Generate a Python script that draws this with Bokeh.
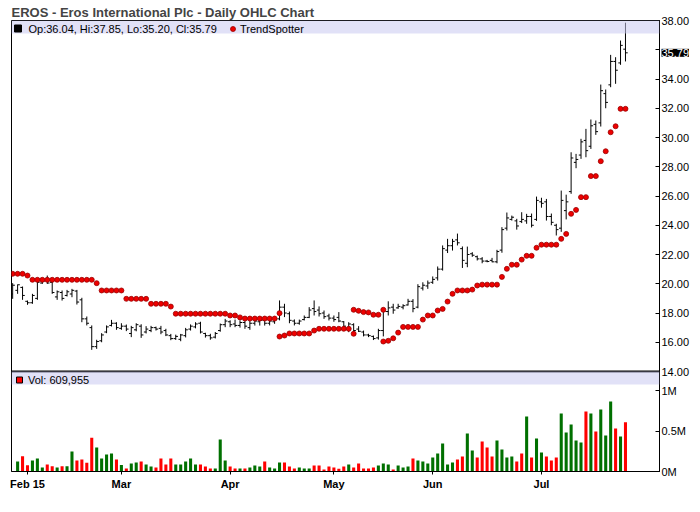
import pandas as pd
from bokeh.plotting import figure
from bokeh.models import (Range1d, FixedTicker, Label, BoxAnnotation, Span,
                          ColumnDataSource, CustomJSTickFormatter)
from bokeh.embed import file_html
from bokeh.resources import INLINE

# ---------------- data ----------------
holidays = ["2015-02-16", "2015-04-03", "2015-05-25", "2015-07-03"]
dates = pd.bdate_range("2015-01-28", "2015-07-27")
dates = dates[~dates.isin(pd.to_datetime(holidays))]

month_labels = ["Feb 15", "Mar", "Apr", "May", "Jun", "Jul"]

high = [
    20.04, 19.95, 19.81, 18.85, 19.31, 20.22, 20.27, 20.56, 20.22, 19.54,
    19.54, 19.58, 19.65, 19.58, 19.04, 17.76, 17.15, 16.17, 16.62, 17.15,
    17.53, 17.37, 17.30, 17.21, 17.12, 17.30, 17.23, 17.10, 17.12, 17.07,
    17.12, 16.92, 16.57, 16.52, 16.57, 16.98, 17.22, 17.37, 17.40, 16.65,
    16.58, 16.70, 17.28, 17.60, 17.50, 17.55, 17.50, 17.50, 17.50, 17.60,
    17.53, 17.60, 17.60, 17.72, 18.86, 18.63, 18.10, 17.56, 17.55, 17.83,
    18.40, 18.86, 18.45, 18.17, 17.95, 17.83, 18.06, 17.45, 17.37, 17.30,
    17.10, 16.80, 16.58, 16.46, 16.92, 18.29, 18.80, 18.63, 18.63, 18.60,
    18.97, 18.95, 19.97, 20.10, 20.22, 20.50, 21.18, 22.62, 23.07, 23.07,
    23.43, 22.55, 22.54, 22.16, 21.93, 21.82, 21.63, 21.77, 22.32, 23.87,
    24.87, 24.66, 24.44, 24.89, 24.78, 24.80, 25.96, 25.88, 25.80, 24.80,
    24.10, 26.37, 26.09, 28.99, 28.88, 29.91, 30.59, 31.23, 31.16, 33.62,
    33.28, 35.65, 35.49, 36.63, 37.85]

low = [
    18.97, 19.31, 18.90, 18.56, 18.63, 18.90, 19.99, 19.99, 19.31, 18.90,
    18.85, 19.13, 19.08, 18.58, 17.37, 17.15, 15.48, 15.55, 16.00, 16.62,
    17.08, 16.85, 16.85, 16.76, 16.35, 16.75, 16.30, 16.60, 16.69, 16.80,
    16.55, 16.42, 16.14, 16.16, 16.07, 16.33, 16.80, 16.95, 16.60, 16.32,
    16.17, 16.26, 16.72, 17.03, 17.03, 17.03, 17.00, 16.92, 16.85, 17.14,
    17.14, 17.14, 17.15, 17.26, 17.50, 17.72, 17.30, 17.15, 17.20, 17.49,
    17.65, 17.83, 17.76, 17.60, 17.49, 17.40, 17.37, 17.00, 16.69, 16.65,
    16.70, 16.40, 16.35, 16.15, 16.18, 16.40, 17.83, 17.95, 18.29, 18.25,
    18.51, 18.05, 18.32, 19.54, 19.65, 19.99, 20.22, 20.90, 22.10, 22.27,
    22.62, 21.08, 21.13, 21.84, 21.59, 21.40, 21.47, 21.47, 21.40, 22.12,
    23.64, 24.32, 23.70, 24.15, 24.10, 23.85, 24.30, 25.20, 24.32, 24.00,
    23.30, 23.55, 24.40, 26.15, 27.90, 28.54, 28.65, 29.22, 30.18, 30.75,
    32.00, 33.44, 33.67, 34.97, 35.20]

opens = [
    19.30, 19.55, 19.75, 18.80, 18.70, 19.00, 20.05, 20.30, 20.10, 19.10,
    19.40, 19.20, 19.30, 19.50, 18.90, 17.60, 17.00, 15.70, 16.10, 16.70,
    17.15, 17.30, 16.95, 17.10, 16.60, 16.85, 17.10, 16.70, 16.80, 17.00,
    16.95, 16.80, 16.45, 16.25, 16.20, 16.45, 16.90, 17.05, 17.30, 16.60,
    16.45, 16.35, 16.80, 17.20, 17.40, 17.25, 17.15, 17.35, 17.00, 17.30,
    17.40, 17.50, 17.30, 17.40, 17.60, 18.40, 17.95, 17.45, 17.30, 17.55,
    17.70, 18.30, 18.20, 18.00, 17.80, 17.65, 17.70, 17.40, 16.90, 17.20,
    16.90, 16.70, 16.50, 16.40, 16.30, 16.80, 18.10, 18.40, 18.35, 18.40,
    18.55, 18.80, 18.40, 19.70, 19.85, 20.10, 20.40, 21.00, 22.30, 22.60,
    23.00, 22.40, 21.40, 22.05, 21.85, 21.70, 21.55, 21.60, 21.50, 22.30,
    23.80, 24.40, 24.30, 24.25, 24.30, 24.60, 24.40, 25.60, 25.60, 24.60,
    24.00, 23.80, 25.00, 26.30, 28.30, 28.80, 29.80, 29.40, 30.90, 31.00,
    33.00, 33.60, 35.20, 35.10, 36.04]

closes = [
    19.90, 19.93, 19.20, 18.70, 19.20, 20.10, 20.15, 20.05, 19.40, 19.45,
    19.00, 19.45, 19.55, 18.75, 17.60, 17.30, 15.70, 16.05, 16.50, 17.05,
    17.30, 17.00, 17.10, 16.90, 17.00, 17.20, 16.50, 16.90, 17.00, 16.90,
    16.70, 16.50, 16.25, 16.40, 16.50, 16.85, 17.10, 17.25, 16.70, 16.45,
    16.30, 16.60, 17.20, 17.45, 17.20, 17.15, 17.35, 17.10, 17.30, 17.45,
    17.50, 17.30, 17.45, 17.55, 18.40, 18.00, 17.50, 17.30, 17.45, 17.70,
    18.20, 18.10, 17.95, 17.75, 17.65, 17.55, 17.45, 17.10, 17.25, 16.80,
    16.75, 16.50, 16.45, 16.25, 16.80, 18.10, 18.35, 18.20, 18.45, 18.50,
    18.80, 18.30, 19.80, 19.90, 20.05, 20.30, 21.00, 22.40, 22.60, 22.90,
    22.80, 21.60, 22.00, 21.95, 21.70, 21.55, 21.52, 21.50, 22.20, 23.70,
    24.50, 24.55, 23.95, 24.40, 24.60, 24.00, 25.70, 25.50, 24.60, 24.20,
    23.70, 25.70, 25.60, 28.60, 28.50, 29.70, 29.10, 30.80, 30.40, 33.20,
    32.40, 35.20, 34.60, 36.30, 35.79]

volume = [
    0, 124000, 190000, 78000, 136000, 161000, 50000, 87000, 66000, 50000,
    66000, 66000, 248000, 136000, 149000, 110000, 420000, 297000, 161000, 211000,
    223000, 149000, 80000, 37000, 99000, 112000, 124000, 87000, 62000, 50000,
    161000, 87000, 161000, 87000, 87000, 124000, 161000, 87000, 87000, 62000,
    37000, 37000, 397000, 136000, 62000, 37000, 37000, 37000, 50000, 74000,
    62000, 124000, 50000, 37000, 112000, 112000, 62000, 37000, 50000, 37000,
    37000, 74000, 74000, 25000, 62000, 50000, 35000, 62000, 87000, 50000,
    99000, 37000, 37000, 50000, 74000, 99000, 87000, 25000, 74000, 50000,
    62000, 161000, 136000, 124000, 99000, 174000, 223000, 347000, 87000, 112000,
    149000, 186000, 471000, 260000, 174000, 372000, 297000, 186000, 384000, 273000,
    174000, 186000, 124000, 223000, 682000, 174000, 409000, 235000, 186000, 136000,
    174000, 719000, 483000, 582000, 384000, 359000, 744000, 719000, 496000, 768000,
    446000, 867000, 533000, 434000, 609955]

vol_up = [
    1, 1, 0, 0, 1, 1, 1, 0, 0, 1,
    0, 1, 1, 0, 0, 0, 0, 1, 1, 1,
    1, 0, 1, 0, 1, 1, 0, 1, 1, 0,
    0, 0, 0, 1, 1, 1, 1, 1, 0, 0,
    0, 1, 1, 1, 0, 0, 1, 0, 1, 1,
    1, 0, 1, 1, 1, 0, 0, 0, 1, 1,
    1, 0, 0, 0, 0, 0, 0, 0, 1, 0,
    0, 0, 0, 0, 1, 1, 1, 0, 1, 1,
    1, 0, 1, 1, 1, 1, 1, 1, 1, 1,
    0, 0, 1, 1, 0, 0, 0, 0, 1, 1,
    1, 1, 0, 0, 1, 0, 1, 1, 0, 0,
    0, 1, 1, 1, 1, 1, 0, 1, 0, 1,
    1, 1, 0, 1, 0]

trend = [
    20.68, 20.68, 20.68, 20.56, 20.27, 20.27, 20.27, 20.27, 20.27, 20.27,
    20.27, 20.27, 20.27, 20.27, 20.27, 20.27, 20.27, 20.04, 19.54, 19.54,
    19.54, 19.54, 19.54, 18.97, 18.97, 18.97, 18.97, 18.97, 18.63, 18.63,
    18.63, 18.63, 18.44, 17.95, 17.95, 17.95, 17.95, 17.95, 17.95, 17.95,
    17.95, 17.95, 17.95, 17.95, 17.83, 17.83, 17.70, 17.62, 17.62, 17.62,
    17.62, 17.62, 17.62, 17.62, 16.39, 16.46, 16.60, 16.60, 16.60, 16.60,
    16.60, 16.80, 16.92, 16.92, 16.92, 16.92, 16.92, 16.92, 16.92, 18.22,
    18.15, 18.06, 18.04, 17.88, 17.88, 16.05, 16.10, 16.27, 16.66, 17.05,
    17.05, 17.05, 17.05, 17.55, 17.83, 17.83, 18.17, 18.28, 18.78, 19.31,
    19.54, 19.54, 19.54, 19.60, 19.88, 19.94, 19.94, 19.94, 19.94, 20.47,
    21.02, 21.30, 21.30, 21.65, 21.91, 21.91, 22.46, 22.67, 22.67, 22.67,
    22.67, 23.07, 23.41, 24.78, 25.05, 25.92, 25.92, 27.36, 27.36, 28.38,
    29.06, 30.36, 30.77, 31.96, 31.96]

# TrendSpotter switch days also show the stop of the previous trend
trend_flip_idx = [54, 69, 75]
trend_flip_val = [17.99, 16.58, 18.22]

# ---------------- layout geometry ----------------
W, H = 698, 510
BL, BT = 11, 20
FW, FH = 648, 451
BR, BB = W - BL - FW, H - BT - FH
PRICE_PANEL_PX = 351
VOL_PANEL_PX = FH - PRICE_PANEL_PX
price_lo, price_hi = 14.0, 38.0
px_per_price = PRICE_PANEL_PX / (price_hi - price_lo)
y_bottom = price_lo - VOL_PANEL_PX / px_per_price
vol_panel_top = 1.24e6
vol_range_top = vol_panel_top * FH / VOL_PANEL_PX
bar_px = 4.942
x_left = -0.237
x_right = x_left + FW / bar_px


def rx(px):  # decoration helper: pixel x -> data x
    return x_left + (px - BL) / bar_px


def ry(py):  # decoration helper: pixel y -> price y
    return price_hi - (py - BT) / px_per_price


n = len(closes)
idx = list(range(n))
month_pos = []
for m in [2, 3, 4, 5, 6, 7]:
    month_pos.append(int(next(i for i, d in enumerate(dates) if d.month == m)))

src = ColumnDataSource(dict(
    x=idx, o=opens, h=high, l=low, c=closes,
    xl=[i - 0.45 for i in idx], xr=[i + 0.45 for i in idx],
    vol=volume,
    vcol=["#007000" if u else "#FF0000" for u in vol_up],
    ts=trend,
))

FONT = "Liberation Sans"

p = figure(width=W, height=H, output_backend="svg", toolbar_location=None,
           x_range=Range1d(x_left, x_right), y_range=Range1d(y_bottom, price_hi),
           y_axis_location="right", x_axis_location="below",
           min_border_left=BL, min_border_right=BR,
           min_border_top=BT, min_border_bottom=BB,
           background_fill_color="white", border_fill_color="white")
p.title.text = "EROS - Eros International Plc - Daily OHLC Chart"
p.title.text_font = FONT
p.title.text_font_size = "13px"
p.title.text_font_style = "bold"
p.title.align = "left"
p.title.standoff = 2
p.title.offset = 0

p.extra_y_ranges = {"vol": Range1d(0, vol_range_top)}
p.xgrid.visible = False
p.ygrid.visible = False
p.outline_line_color = "black"
p.outline_line_width = 1

# OHLC bars
p.segment(x0="x", y0="l", x1="x", y1="h", source=src, line_color="black", line_width=1)
p.segment(x0="xl", y0="o", x1="x", y1="o", source=src, line_color="black", line_width=1)
p.segment(x0="x", y0="c", x1="xr", y1="c", source=src, line_color="black", line_width=1)

# TrendSpotter
p.scatter(x="x", y="ts", source=src, marker="circle", size=5,
          fill_color="#EE0000", line_color="#990000", line_width=0.8)
p.scatter(x=trend_flip_idx, y=trend_flip_val, marker="circle", size=5,
          fill_color="#EE0000", line_color="#990000", line_width=0.8)

# Volume
p.vbar(x="x", top="vol", bottom=0, width=0.62, source=src, y_range_name="vol",
       fill_color="vcol", line_color=None)

# panel separator and legend bands
p.add_layout(Span(location=price_lo, dimension="width", line_color="black", line_width=2))
band_px = 13
p.add_layout(BoxAnnotation(bottom=price_hi - band_px / px_per_price, top=price_hi,
                           fill_color="#C8C8F0", fill_alpha=0.55, line_color=None))
p.add_layout(BoxAnnotation(bottom=price_lo - band_px / px_per_price, top=price_lo,
                           fill_color="#C8C8F0", fill_alpha=0.55, line_color=None))

# legend markers (drawn above the bands)
r1 = p.scatter(x=[rx(17.5)], y=[ry(28)], marker="square", size=7, fill_color="black", line_color="black")
r2 = p.scatter(x=[rx(232.5)], y=[ry(28.5)], marker="circle", size=5,
               fill_color="#EE0000", line_color="#990000", line_width=0.8)
r3 = p.scatter(x=[rx(19)], y=[ry(379.5)], marker="square", size=6, fill_color="#FF0000",
               line_color="black", line_width=1)
for r in (r1, r2, r3):
    r.level = "overlay"

legend_txt = "Op:%.2f, Hi:%.2f, Lo:%.2f, Cl:%.2f" % (opens[-1], high[-1], low[-1], closes[-1])
for txt, x, y in [(legend_txt, rx(28), ry(28)),
                  ("TrendSpotter", rx(239.5), ry(28)),
                  ("Vol: {:,}".format(volume[-1]), rx(27.5), ry(379))]:
    p.add_layout(Label(x=x, y=y, text=txt, text_font=FONT, text_font_size="11px",
                       text_baseline="middle", text_align="left", text_color="black"))

# last close marker on the price scale (held in the bottom side panel so it is not
# clipped to the frame; positioned with the plot's own scales)
p.add_layout(Label(x=rx(BL + FW + 2), y=closes[-1],
                   text="%.2f" % closes[-1], text_font=FONT, text_font_size="11px",
                   text_baseline="middle", text_align="left", text_color="white",
                   background_fill_color="black"), "below")

# right axis: price ticks + volume ticks
vol_ticks = [0, 500000, 1000000]
price_ticks = list(range(14, 39, 2))
vol_tick_pos = [y_bottom + v * (price_lo - y_bottom) / vol_panel_top for v in vol_ticks]
ya = p.yaxis[0]
ya.ticker = FixedTicker(ticks=vol_tick_pos + [float(t) for t in price_ticks])
ya.formatter = CustomJSTickFormatter(
    args=dict(pb=y_bottom, pt=price_lo, vt=vol_panel_top, hide=36.0),
    code="""
if (tick >= pt - 1e-6) {
  if (Math.abs(tick - hide) < 1e-6) { return ""; }
  return tick.toFixed(2);
}
const v = (tick - pb) / (pt - pb) * vt / 1e6;
return (Math.round(v * 10) / 10) + "M";
""")
ya.major_tick_in = 4
ya.major_tick_out = 0
ya.minor_tick_line_color = None
ya.major_label_standoff = 2
ya.major_label_text_font = FONT
ya.major_label_text_font_size = "11px"
ya.major_label_text_color = "black"
ya.axis_line_color = "black"

xa = p.xaxis[0]
xa.ticker = FixedTicker(ticks=month_pos)
xa.formatter = CustomJSTickFormatter(args=dict(mpos=month_pos, mlab=month_labels),
                                     code="const k = mpos.indexOf(tick); return k < 0 ? '' : mlab[k];")
xa.major_tick_in = 0
xa.major_tick_out = 3
xa.minor_tick_line_color = None
xa.major_label_standoff = 3
xa.major_label_text_font = FONT
xa.major_label_text_font_size = "11px"
xa.major_label_text_font_style = "bold"
xa.major_label_text_color = "black"
xa.axis_line_color = "black"

open("out.html", "w").write(file_html(p, INLINE))
